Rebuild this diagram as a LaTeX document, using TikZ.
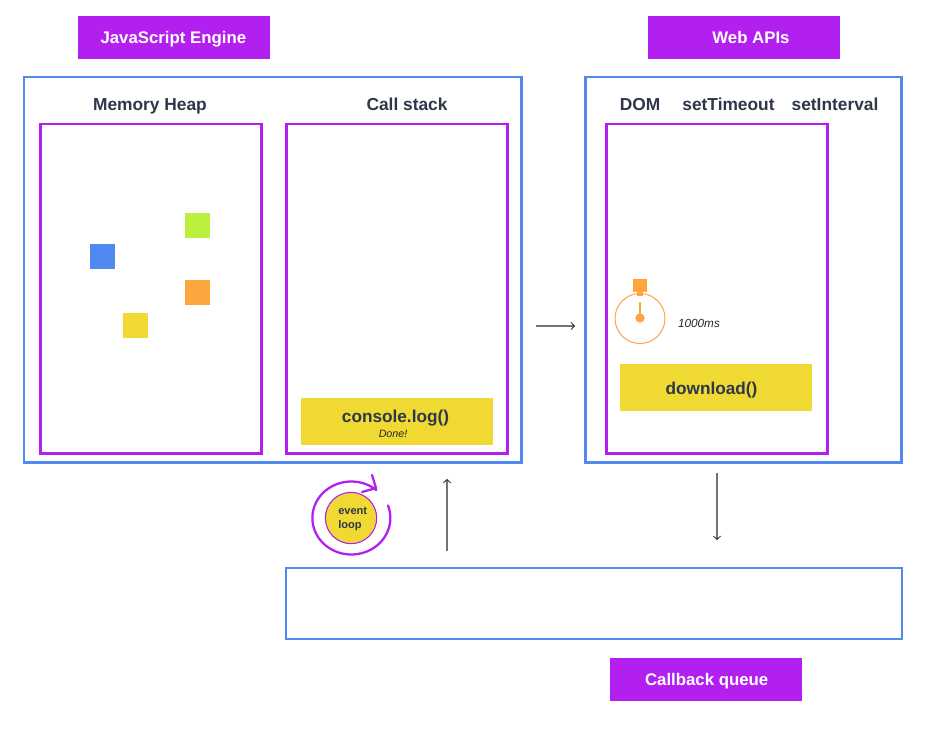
\documentclass[tikz,border=0pt]{standalone}
\usepackage{fontspec}
\setmainfont{Liberation Sans}
\usetikzlibrary{arrows.meta}
\definecolor{pur}{HTML}{B31FEF}
\definecolor{blu}{HTML}{5089EF}
\definecolor{yel}{HTML}{F0D932}
\definecolor{org}{HTML}{FDA63F}
\definecolor{lim}{HTML}{BCF03C}
\definecolor{ink}{HTML}{2D3748}
\definecolor{gry}{HTML}{70757A}
\tikzset{
  x=0.75pt,y=-0.75pt,
  box/.style={draw=#1,line width=2.2pt,line join=miter},
  tag/.style={fill=pur,text=white,font=\fontsize{12.6}{14}\selectfont\bfseries,minimum width=144pt,minimum height=32pt,inner sep=0pt,text height=9pt,text depth=0pt},
  head/.style={anchor=base,text=ink,font=\fontsize{13}{15}\selectfont\bfseries,inner sep=0pt},
  call/.style={fill=yel,inner sep=0pt,text=ink},
  calltext/.style={anchor=base,text=ink,inner sep=0pt,font=\fontsize{12.9}{15}\selectfont\bfseries},
  note/.style={anchor=base,text=black!85,inner sep=0pt,font=\fontsize{#1}{10}\selectfont\itshape},
  arrowline/.style={draw=gry,line width=0.85pt,-{Straight Barb[length=2.6pt,width=5.5pt,line width=0.6pt,color=black!85]}},
  chip/.style={minimum size=18.75pt,inner sep=0pt},
}
\begin{document}
\begin{tikzpicture}
\useasboundingbox[fill=white] (0,0) rectangle (927,743);
% tags
\node[tag] (jstag) at (174,37.5) {\hspace*{-1pt}JavaScript Engine};
\node[tag] (webtag) at (744,37.5) {\hspace*{10.5pt}Web APIs};
\node[tag] (cbtag) at (706,679.5) {\hspace*{1pt}Callback queue};
% outer boxes
\draw[box=blu] (24,77) rectangle (521.5,462.5);
\draw[box=blu] (585.5,77) rectangle (901.5,462.5);
% headings
\node[head] (heap) at (150,110) {Memory Heap};
\node[head] (stack) at (407,110) {Call stack};
\node[head] (dom) at (640,110) {DOM};
\node[head] (st) at (728.5,110) {setTimeout};
\node[head] (si) at (835,110) {setInterval};
% inner boxes
\draw[box=pur] (40.5,124) rectangle (261.5,453.5);
\draw[box=pur] (286.5,124) rectangle (507.5,453.5);
\draw[box=pur] (606.5,124) rectangle (827.5,453.5);
% heap chips
\node[chip,fill=lim] (c1) at (197.5,225.5) {};
\node[chip,fill=blu] (c2) at (102.5,256.5) {};
\node[chip,fill=org] (c3) at (197.5,292.5) {};
\node[chip,fill=yel] (c4) at (135.5,325.5) {};
% console.log
\node[call,minimum width=144pt,minimum height=35.25pt] (log) at (397,421.5) {};
\node[calltext] (logt) at (395.5,422) {console.log()};
\node[note=8] (done) at (393,437) {Done!};
% download
\node[call,minimum width=144pt,minimum height=35.25pt] (dl) at (716,387.5) {};
\node[calltext] (dlt) at (711.5,394) {download()};
% stopwatch
\node[circle,draw=org,line width=0.75pt,minimum size=37.5pt,inner sep=0pt] (watch) at (640,318.5) {};
\node[fill=org,minimum width=10.5pt,minimum height=9.75pt,inner sep=0pt] (cap) at (640,285.5) {};
\node[fill=org,minimum width=4.5pt,minimum height=3pt,inner sep=0pt] (neck) at (640,293.5) {};
\node[circle,fill=org,minimum size=7pt,inner sep=0pt] (pivot) at (640,318) {};
\draw[org,line width=1.5pt] (pivot.center) -- (640,302);
\node[note=8.8] (ms) at (699,327) {1000ms};
% event loop
\node[circle,fill=yel,draw=pur,line width=0.8pt,minimum size=38.5pt,inner sep=0pt] (ev) at (351,518) {};
\node[text=ink,inner sep=0pt,anchor=base west,font=\fontsize{8.3}{10.5}\selectfont\bfseries] (evt1) at (338,514) {event};
\node[text=ink,inner sep=0pt,anchor=base west,font=\fontsize{8.3}{10.5}\selectfont\bfseries] (evt2) at (338,528) {loop};
\draw[pur,line width=1.7pt,line cap=round] (388,505.5) arc[start angle=-20,end angle=310,x radius=39,y radius=36.5];
\draw[pur,line width=1.7pt,line cap=round,line join=round] (372,475) -- (376,488) -- (362,492);
% arrows
\coordinate (a1s) at (536,326); \coordinate (a1e) at (575,326);
\draw[arrowline] (a1s) -- (a1e);
\coordinate (a2s) at (447,551); \coordinate (a2e) at (447,479);
\draw[arrowline] (a2s) -- (a2e);
\coordinate (a3s) at (717,473); \coordinate (a3e) at (717,540);
\draw[arrowline] (a3s) -- (a3e);
% queue
\draw[blu,line width=1.5pt] (286,567.5) rectangle (902,639);
\end{tikzpicture}
\end{document}
